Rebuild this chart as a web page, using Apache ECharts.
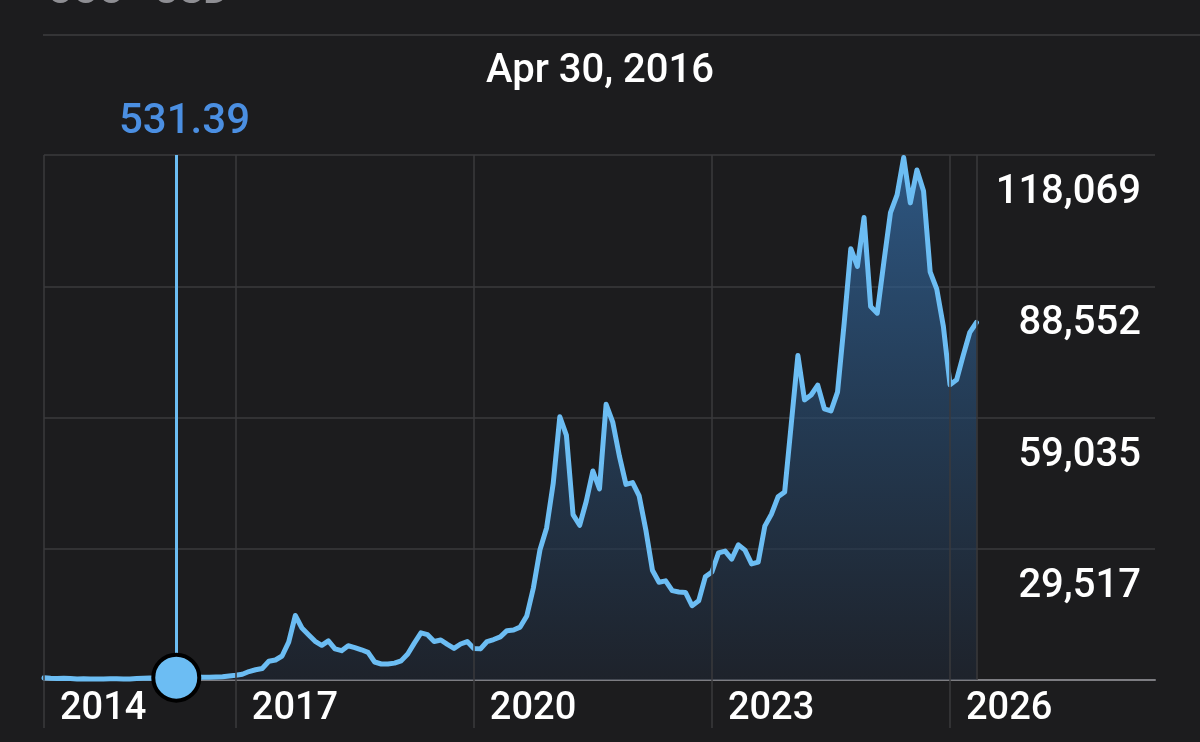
<!DOCTYPE html>
<html>
<head>
<meta charset="utf-8">
<script src="https://cdn.jsdelivr.net/npm/echarts@6/dist/echarts.min.js"></script>
<style>
  html, body { margin: 0; padding: 0; background: #1c1c1e; }
  #chart { width: 1200px; height: 742px; }
</style>
</head>
<body>
<div id="chart"></div>
<script>
// ---- data (monthly closes, BTC-USD) ----
const startYear = 2014;
const startMonth = 8; // first point: Aug 2014
const prices = [
  480, 390, 340, 380, 320, 220, 255, 245, 236, 230,
  263, 284, 230, 236, 314, 377, 430, 370, 437, 416,
  531.39, 560, 640, 660, 600, 620, 700, 740, 900, 1050,
  1300, 1900, 2300, 2600, 4200, 4500, 5400, 8500, 14500, 11700,
  10200, 8700, 7800, 8800, 7000, 6600, 7700, 7300, 6800, 6200,
  4050, 3600, 3600, 3800, 4300, 5850, 8300, 10600, 10200, 8650,
  9000, 8000, 7100, 8100, 8650, 7100, 7000, 8650, 9100, 9700,
  11100, 11250, 11900, 14400, 20700, 29300, 34200, 44200, 59200, 55000,
  37200, 34800, 40200, 47000, 43000, 62000, 58000, 50400, 44000, 44400,
  41400, 33800, 24700, 22000, 22300, 20100, 19800, 19700, 16700, 17800,
  23200, 24300, 28600, 29000, 27200, 30400, 29200, 26100, 26500, 34600,
  37300, 41200, 42300, 57600, 73000, 63000, 64100, 66300, 61000, 60500,
  64800, 80300, 97000, 93000, 104000, 84000, 82500, 94000, 105100, 109100,
  117500, 107300, 114700, 110000, 91800, 87900, 79500, 66400, 67500, 73000,
  78200, 80400
];
const xTickYears = [2014, 2017, 2020, 2023, 2026];
const xMaxMonths = 168; // axis runs to Aug 2028
const yTickValues = [0, 29517.25, 59034.5, 88551.75, 118069];
const cursorDate = 'Apr 30, 2016';
const cursorValue = 531.39;
const cursorYear = 2016, cursorMonth = 4;
const header = 'CCC · USD';

// ---- derived ----
const monthIndex = (y, m) => (y - startYear) * 12 + (m - startMonth);
const xTickIdx = xTickYears.map(y => Math.max(0, monthIndex(y, 1)));
const idxToYear = {};
xTickIdx.forEach((v, i) => { idxToYear[v] = String(xTickYears[i]); });
const seriesData = prices.map((v, i) => [i, v]);
const cursorIdx = monthIndex(cursorYear, cursorMonth);
const lastIdx = prices.length - 1;
const yMax = yTickValues[yTickValues.length - 1];
const yInterval = yTickValues[1] - yTickValues[0];

const FONT = 'Roboto, "Noto Sans", sans-serif';
const lineBlue = '#6cbdf3';
const gridGray = '#3a3a3c';

const chart = echarts.init(document.getElementById('chart'));
chart.setOption({
  backgroundColor: '#1c1c1e',
  animation: false,
  grid: { left: 44, right: 45, top: 155, bottom: 62 },
  graphic: [
    { type: 'text', left: 47, top: -26, z: 10,
      style: { text: header, fill: '#8e8e93', font: '500 39px ' + FONT } },
    { type: 'rect', shape: { x: 43, y: 34, width: 1157, height: 2 }, style: { fill: '#343436' } },
    { type: 'text', x: 600, y: 72, z: 10,
      style: { text: cursorDate, fill: '#ffffff', font: '500 40px ' + FONT, align: 'center', verticalAlign: 'middle' } },
    { type: 'text', x: 119, y: 122, z: 10,
      style: { text: cursorValue.toFixed(2), fill: '#4b8fe2', font: '500 42px ' + FONT, align: 'left', verticalAlign: 'middle' } }
  ],
  xAxis: {
    type: 'value', min: 0, max: xMaxMonths,
    axisLine: { show: true, onZero: false, lineStyle: { color: '#7d7d82', width: 2 } },
    axisTick: { show: true, customValues: xTickIdx, length: 48, lineStyle: { color: gridGray, width: 1.5 } },
    axisLabel: {
      customValues: xTickIdx,
      formatter: v => idxToYear[v] || '',
      color: '#ffffff', fontSize: 38, fontFamily: FONT, fontWeight: 500,
      align: 'left', padding: [0, 0, 0, 16], margin: 10, lineHeight: 38
    },
    splitLine: { show: false }
  },
  yAxis: {
    type: 'value', position: 'right', min: 0, max: yMax, interval: yInterval,
    axisLine: { show: false }, axisTick: { show: false },
    axisLabel: {
      inside: true, margin: 14, verticalAlign: 'top', padding: [18, 0, 0, 0], lineHeight: 40,
      color: '#ffffff', fontSize: 40, fontFamily: FONT, fontWeight: 500,
      formatter: v => v === 0 ? '' : Math.round(v).toLocaleString('en-US')
    },
    splitLine: { show: true, lineStyle: { color: gridGray, width: 1.5 } }
  },
  series: [
    {
      type: 'line', data: [], z: 1, silent: true,
      markLine: {
        silent: true, symbol: 'none', label: { show: false },
        lineStyle: { color: gridGray, width: 1.5, type: 'solid' },
        data: xTickIdx.map(v => ({ xAxis: v })).concat([{ xAxis: lastIdx }])
      }
    },
    {
      type: 'line', data: seriesData, z: 2, symbol: 'none', smooth: false,
      lineStyle: { color: lineBlue, width: 5, join: 'round', cap: 'round' },
      itemStyle: { color: lineBlue },
      areaStyle: {
        color: new echarts.graphic.LinearGradient(0, 0, 0, 1, [
          { offset: 0, color: 'rgba(54,116,180,0.95)' },
          { offset: 0.5, color: 'rgba(40,76,114,0.9)' },
          { offset: 1, color: 'rgba(31,39,52,0.85)' }
        ])
      },
      markLine: {
        silent: true, symbol: 'none', label: { show: false },
        lineStyle: { color: lineBlue, width: 3, type: 'solid' },
        data: [{ xAxis: cursorIdx }]
      }
    },
    {
      type: 'scatter', z: 5, data: [[cursorIdx, cursorValue]],
      symbolSize: 46,
      itemStyle: { color: lineBlue, borderColor: '#000000', borderWidth: 4, opacity: 1 }
    }
  ]
});
</script>
</body>
</html>
